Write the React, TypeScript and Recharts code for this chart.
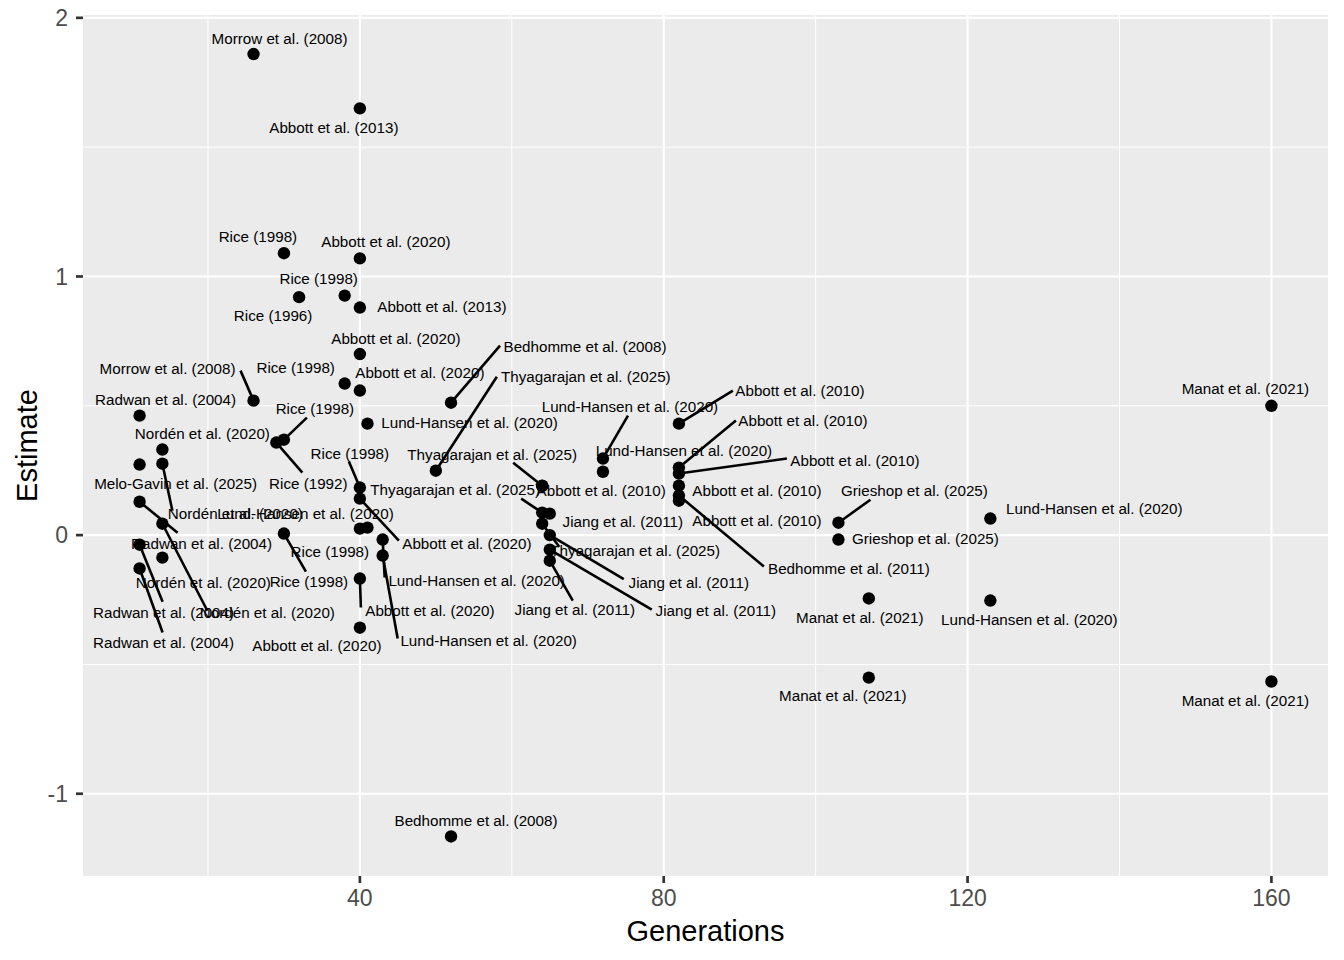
import { ScatterChart, Scatter, XAxis, YAxis, CartesianGrid } from 'recharts';

// one entry per estimate
const studies = [
  'Morrow et al. (2008)', 'Abbott et al. (2013)', 'Rice (1998)', 'Abbott et al. (2020)', 'Rice (1996)',
  'Rice (1998)', 'Abbott et al. (2013)', 'Abbott et al. (2020)', 'Morrow et al. (2008)', 'Rice (1998)',
  'Abbott et al. (2020)', 'Bedhomme et al. (2008)', 'Radwan et al. (2004)', 'Lund-Hansen et al. (2020)', 'Nordén et al. (2020)',
  'Rice (1998)', 'Rice (1992)', 'Nordén et al. (2020)', 'Melo-Gavin et al. (2025)', 'Thyagarajan et al. (2025)',
  'Lund-Hansen et al. (2020)', 'Lund-Hansen et al. (2020)', 'Abbott et al. (2010)', 'Abbott et al. (2010)', 'Abbott et al. (2010)',
  'Abbott et al. (2010)', 'Bedhomme et al. (2011)', 'Abbott et al. (2010)', 'Thyagarajan et al. (2025)', 'Abbott et al. (2010)',
  'Thyagarajan et al. (2025)', 'Jiang et al. (2011)', 'Thyagarajan et al. (2025)', 'Jiang et al. (2011)', 'Jiang et al. (2011)',
  'Jiang et al. (2011)', 'Rice (1998)', 'Abbott et al. (2020)', 'Rice (1998)', 'Lund-Hansen et al. (2020)',
  'Lund-Hansen et al. (2020)', 'Lund-Hansen et al. (2020)', 'Abbott et al. (2020)', 'Abbott et al. (2020)', 'Rice (1998)',
  'Radwan et al. (2004)', 'Nordén et al. (2020)', 'Radwan et al. (2004)', 'Nordén et al. (2020)', 'Radwan et al. (2004)',
  'Grieshop et al. (2025)', 'Grieshop et al. (2025)', 'Manat et al. (2021)', 'Manat et al. (2021)', 'Lund-Hansen et al. (2020)',
  'Lund-Hansen et al. (2020)', 'Manat et al. (2021)', 'Manat et al. (2021)', 'Bedhomme et al. (2008)',
];

const generations = [
  26, 40, 30, 40, 32,
  38, 40, 40, 26, 38,
  40, 52, 11, 41, 14,
  30, 29, 14, 11, 50,
  72, 72, 82, 82, 82,
  82, 82, 82, 64, 64,
  64, 65, 64, 65, 65,
  65, 40, 40, 40, 41,
  43, 43, 40, 40, 30,
  11, 14, 11, 14, 11,
  103, 103, 107, 107, 123,
  123, 160, 160, 52,
];

const estimates = [
  1.86, 1.65, 1.09, 1.07, 0.92,
  0.926, 0.88, 0.70, 0.52, 0.586,
  0.559, 0.512, 0.462, 0.431, 0.331,
  0.369, 0.358, 0.276, 0.273, 0.249,
  0.296, 0.245, 0.431, 0.261, 0.238,
  0.191, 0.153, 0.133, 0.191, 0.19,
  0.087, 0.083, 0.044, 0.0, -0.056,
  -0.099, 0.184, 0.141, 0.025, 0.029,
  -0.017, -0.079, -0.168, -0.358, 0.006,
  0.129, 0.044, -0.037, -0.087, -0.129,
  0.048, -0.017, -0.245, -0.551, 0.064,
  -0.253, 0.5, -0.566, -1.165,
];

// repelled label placement, px from the point: [dx, dy] or [dx, dy, leaderDx, leaderDy]
const labelLayout: number[][] = [
  [26, -16], [-26, 19], [-26, -17], [26, -17], [-26, 18],
  [-26, -17], [82, -1], [36, -16], [-86, -32, -13, -30], [-49, -16],
  [60, -18], [134, -56, 49, -57], [26, -16], [102, -1], [40, -16],
  [31, -31, 23, -22], [32, 41, 26, 30], [73, 50, 10, 47], [36, 19], [150, -94, 61, -94],
  [27, -52, 25, -43], [81, -21], [121, -33, 54, -33], [124, -47, 57, -47], [176, -13, 108, -15],
  [78, 5], [170, 73, 85, 71], [78, 20], [-50, -31, -29, -23], [59, 5],
  [-87, -23, -21, -14], [73, 8], [93, 27, 17, 23], [139, 47, 74, 44], [166, 61, 102, 60],
  [25, 49, 23, 40], [-10, -34, -11, -26], [107, 45, 39, 42], [-30, 23], [-62, -14],
  [94, 41, 2, 38], [106, 85, 15, 83], [70, 32, 1, 29], [-43, 18], [25, 48, 22, 38],
  [62, 42, 38, 31], [105, 89, 45, 87], [24, 68, 23, 57], [41, 25], [24, 74, 23, 64],
  [76, -32, 32, -23], [87, -1], [-9, 19], [-26, 18], [104, -10],
  [39, 19], [-26, -17], [-26, 19], [25, -16],
];

const xMajor = [40, 80, 120, 160];
const xMinor = [20, 60, 100, 140];
const yMajor = [-1, 0, 1, 2];
const yMinor = [-0.5, 0.5, 1.5];

const points = studies.map((study, i) => ({
  study,
  generations: generations[i],
  estimate: estimates[i],
  idx: i,
}));

const FONT = '"Liberation Sans", Arial, Helvetica, sans-serif';

function Dot(props: any) {
  const { cx, cy } = props;
  return <circle cx={cx} cy={cy} r={6.2} fill="#000" />;
}

function RepelLabel(props: any) {
  const { cx, cy, payload } = props;
  const lay = labelLayout[payload.idx];
  return (
    <g>
      {lay.length === 4 && (
        <line x1={cx} y1={cy} x2={cx + lay[2]} y2={cy + lay[3]} stroke="#000" strokeWidth={2.6} />
      )}
      <text
        x={cx + lay[0]}
        y={cy + lay[1]}
        dy="0.36em"
        textAnchor="middle"
        fontSize={15.2}
        fontFamily={FONT}
        fill="#000"
      >
        {payload.study}
      </text>
    </g>
  );
}

function YTitle(props: any) {
  const { viewBox } = props;
  const cy = viewBox.y + viewBox.height / 2;
  return (
    <text x={37} y={cy} transform={`rotate(-90 37 ${cy})`} textAnchor="middle" fontSize={29} fontFamily={FONT} fill="#000">
      Estimate
    </text>
  );
}

export default function App() {
  return (
    <div style={{ position: 'absolute', left: 0, top: 0, background: '#fff', fontFamily: FONT }}>
      <ScatterChart width={1344} height={960} margin={{ top: 15, right: 16, bottom: 0, left: 0 }}>
        <CartesianGrid
          fill="#EBEBEB"
          stroke="#fff"
          strokeWidth={1}
          horizontalValues={yMinor}
          verticalValues={xMinor}
        />
        <CartesianGrid stroke="#fff" strokeWidth={2.1} horizontalValues={yMajor} verticalValues={xMajor} />
        <XAxis
          dataKey="generations"
          type="number"
          domain={[3.55, 167.45]}
          ticks={xMajor}
          interval={0}
          allowDataOverflow
          height={84}
          axisLine={false}
          tickSize={7}
          tickMargin={7}
          tickLine={{ stroke: '#333', strokeWidth: 2.7 }}
          tick={{ fill: '#4D4D4D', fontSize: 23, fontFamily: FONT }}
          label={{ value: 'Generations', position: 'insideBottom', offset: 19, fill: '#000', fontSize: 29, fontFamily: FONT }}
        />
        <YAxis
          dataKey="estimate"
          type="number"
          domain={[-1.318, 2.011]}
          ticks={yMajor}
          interval={0}
          allowDataOverflow
          width={83}
          axisLine={false}
          tickSize={7}
          tickMargin={8}
          tickLine={{ stroke: '#333', strokeWidth: 2.7 }}
          tick={{ fill: '#4D4D4D', fontSize: 23, fontFamily: FONT }}
          label={<YTitle />}
        />
        <Scatter data={points} shape={<Dot />} isAnimationActive={false} />
        <Scatter data={points} shape={<RepelLabel />} isAnimationActive={false} />
      </ScatterChart>
    </div>
  );
}
